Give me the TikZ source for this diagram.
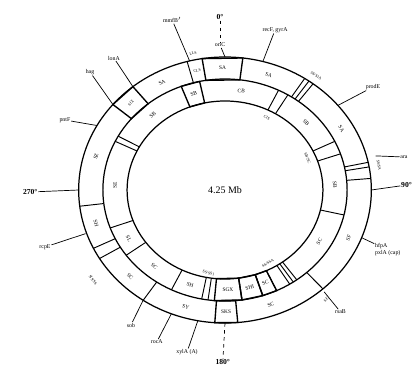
\documentclass[tikz,border=0pt]{standalone}
\usepackage{fontspec}
\setmainfont{Liberation Serif}
\usetikzlibrary{positioning,calc}

\begin{document}
\begin{tikzpicture}[x=0.033cm, y=0.03cm,
  ring/.style={line width=1.05pt},
  divline/.style={line width=0.8pt},
  boxseg/.style={line width=1.15pt},
  seg/.style={font=\fontsize{4.6}{5}\selectfont, inner sep=0pt},
  tinylab/.style={font=\fontsize{3.4}{4}\selectfont, inner sep=0pt},
  gene/.style={font=\fontsize{5}{6}\selectfont, inner sep=0.6pt},
  deg/.style={font=\fontsize{6.5}{7}\selectfont\bfseries, inner sep=0.6pt},
  lead/.style={line width=0.6pt}
]
\useasboundingbox (-204.5,-181) rectangle (174.5,190);

% the three circles of the map
\foreach \r in {133,111,89}
  \draw[ring] (0,0) circle [radius=\r];
\node[font=\fontsize{8.5}{9}\selectfont] (size) at (0,0) {4.25 Mb};

% dividers, outer ring (map angles, clockwise from the top)
\foreach \a in {345,33,35,37,78,80,85,138,214,239,244,263}
  \draw[divline] ({90-\a}:111) -- ({90-\a}:133);
% dividers, inner ring
\foreach \a in {26,31,64,71,103,144,146,148,155,188,191,206,234,250,296,299}
  \draw[divline] ({90-\a}:89) -- ({90-\a}:111);

% boxed segments
\draw[boxseg] (99:111) -- (99:133) -- (83:133) -- (83:111) -- cycle;
\draw[boxseg] (-85:111) -- (-85:133) -- (-94:133) -- (-94:111) -- cycle;
\draw[boxseg] (140:111) -- (140:133) -- (129:133) -- (129:111) -- cycle;
\draw[boxseg] (111:89) -- (111:111) -- (102:111) -- (102:89) -- cycle;
\draw[boxseg] (-65:89) -- (-65:111) -- (-72:111) -- (-72:89) -- cycle;
\draw[boxseg] (-72:89) -- (-72:111) -- (-82:111) -- (-82:89) -- cycle;
\draw[boxseg] (-82:89) -- (-82:111) -- (-95:111) -- (-95:89) -- cycle;

% segment names, outer ring
\foreach \a/\rot/\t in {359/1/SA, 19/-19/SA, 60/-60/SA, 113/67/SF, 160/20/SC,
    179.5/0/SKS, 197/-17/SY, 225/-45/SC, 254/-74/SH, 286/74/SZ, 332/28/SA}
  \node[seg, rotate=\rot] (o-\a) at ({90-\a}:122) {\t};
\node[tinylab, rotate=44] (o-box) at ({90-315.5}:122) {SIX};
\node[tinylab, rotate=12] (o-cls) at ({90-348}:122) {CLS};

% segment names, inner ring
\foreach \a/\rot/\t in {343.5/16/SB, 8.5/-8/CB, 47.5/-47/SB, 87/-87/SB, 121/59/SC,
    158.5/21/SC, 167/13/SHI, 178.5/1/SGX, 198.5/-18/SH, 220/-40/SC,
    241/-61/SL, 273/87/SE, 319/41/SB}
  \node[seg, rotate=\rot] (i-\a) at ({90-\a}:100) {\t};

% small site labels
\node[tinylab, rotate=-26] (s-cis) at (38,72) {CIS};
\node[tinylab, rotate=-67] (s-sb) at (75,32) {SB/SC};
\node[tinylab, rotate=-13] (s-bot) at (-15,-83) {SS/SS1};
\node[tinylab, rotate=28] (s-br) at (39,-73) {SS/SSA};
\node[tinylab, rotate=-36] (s-tr) at ({90-36}:141) {SS/S1A};
\node[tinylab, rotate=-80] (s-r) at ({90-80}:142) {SS/SA};
\node[tinylab, rotate=12] (s-top) at ({90-348}:140) {LLS};
\node[tinylab, rotate=40] (s-se) at ({90-140}:143) {SE};
\node[tinylab, rotate=-55] (s-bl) at (-120,-90) {SIS/SS};

% degree marks
\node[deg] (zero) at (-4.5,173) {0°};
\node[gene] (oric) at (-4.5,145) {oriC};
\coordinate (c-top) at (90:133);
\draw[lead, dashed] (zero) -- (oric);
\draw[lead] (oric) -- (c-top);
\node[deg] (ninety) at (165,5) {90°};
\coordinate (c-right) at (0:133);
\draw[lead] (c-right) -- (ninety);
\node[deg] (oneeighty) at (-2,-172) {180°};
\coordinate (c-bottom) at (-90:133);
\draw[lead, dashed] (c-bottom) -- (oneeighty);
\node[deg] (twoseventy) at (-177,-2) {270°};
\coordinate (c-left) at (180:133);
\draw[lead] (c-left) -- (twoseventy);

% gene loci
\node[gene] (mmfb) at (-48,170) {mmfB$'$};
\coordinate (c-mmfb) at ({90-346}:133);
\draw[lead] (mmfb) -- (c-mmfb);
\node[gene] (recf) at (45.5,160) {recF, gyrA};
\coordinate (c-recf) at ({90-15}:133);
\draw[lead] (recf) -- (c-recf);
\node[gene] (prode) at (134.5,103) {prodE};
\coordinate (c-prode) at ({90-50.5}:133);
\draw[lead] (prode) -- (c-prode);
\node[gene] (ara) at (162.7,33) {ara};
\coordinate (c-ara) at ({90-76}:141);
\draw[lead] (ara) -- (c-ara);
\node[gene, align=left] (hfpa) at (148,-60) {hfpA\\pxlA (cap)};
\coordinate (c-hfpa) at ({90-111}:133);
\draw[lead] (hfpa) -- (c-hfpa);
\node[gene] (rsab) at (105,-122) {rsaB};
\coordinate (c-rsab) at ({90-138.5}:136);
\draw[lead] (rsab) -- (c-rsab);
\node[gene] (xyla) at (-34.5,-162) {xylA (A)};
\coordinate (c-xyla) at ({90-190.7}:133);
\draw[lead] (xyla) -- (c-xyla);
\node[gene] (roca) at (-62,-152) {rocA};
\coordinate (c-roca) at ({90-201.5}:133);
\draw[lead] (roca) -- (c-roca);
\node[gene] (sob) at (-85.5,-135) {sob};
\coordinate (c-sob) at ({90-214}:133);
\draw[lead] (sob) -- (c-sob);
\node[gene] (rcpe) at (-163.6,-57) {rcpE};
\coordinate (c-rcpe) at ({90-251}:134);
\draw[lead] (rcpe) -- (c-rcpe);
\node[gene] (pntf) at (-145.5,70) {pntF};
\coordinate (c-pntf) at ({90-299}:133);
\draw[lead] (pntf) -- (c-pntf);
\node[gene] (hag) at (-122.7,118) {hag};
\coordinate (c-hag) at ({90-310}:133);
\draw[lead] (hag) -- (c-hag);
\node[gene] (lona) at (-101,132) {lonA};
\coordinate (c-lona) at ({90-321}:133);
\draw[lead] (lona) -- (c-lona);
\end{tikzpicture}
\end{document}
